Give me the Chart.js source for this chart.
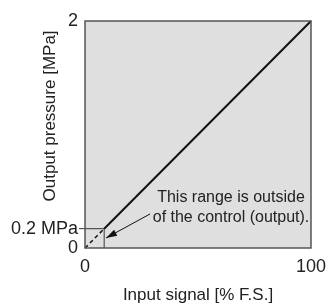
<!DOCTYPE html>
<html>
<head>
<meta charset="utf-8">
<script src="https://cdn.jsdelivr.net/npm/chart.js@4.4.1/dist/chart.umd.min.js"></script>
<style>
  html, body { margin: 0; padding: 0; background: #fff; }
  #wrap { width: 327px; height: 304px; }
</style>
</head>
<body>
<div id="wrap"><canvas id="chart"></canvas></div>
<script>
/* input signal vs output pressure — linear characteristic with the dead zone box */

// ── Data ─────────────────────────────────────────────────────────────────────
const X_TICKS = [0, 100];
const X_TICK_LABELS = ['0', '100'];
const Y_TICKS = [0, 0.17, 2];
const Y_TICK_LABELS = ['0', '0.2 MPa', '2'];

const LINE_X = [8.5, 100];       // controlled range
const LINE_Y = [0.17, 2];
const DASH_X = [0, 8.5];         // outside the control
const DASH_Y = [0, 0.17];
const BOX_X = [0, 8.5, 8.5];     // small range box
const BOX_Y = [0.17, 0.17, 0];
const ARROW_X = [28.8, 9.3];     // tail -> tip
const ARROW_Y = [0.30, 0.088];

const NOTE_LINES = ['This range is outside', 'of the control (output).'];
const NOTE_X = 64.6;
const NOTE_Y = [0.44, 0.265];

const X_TITLE = 'Input signal [% F.S.]';
const Y_TITLE = 'Output pressure [MPa]';

// ── Style ────────────────────────────────────────────────────────────────────
const FONT = '"Liberation Sans", Arial, sans-serif';
const TEXT = '#222';
const FRAME = '#555';
const AREA = '#dfdfdf';

const pts = (xs, ys) => xs.map((x, i) => ({ x, y: ys[i] }));

const plotArea = {
  id: 'plotArea',
  beforeDatasetsDraw(chart) {
    const { ctx, chartArea: a } = chart;
    ctx.save();
    ctx.fillStyle = AREA;
    ctx.fillRect(a.left, a.top, a.width, a.height);
    ctx.restore();
  },
  afterDatasetsDraw(chart) {
    const { ctx, chartArea: a } = chart;
    ctx.save();
    ctx.strokeStyle = FRAME;
    ctx.lineWidth = 1.5;
    ctx.strokeRect(a.left, a.top, a.width, a.height);
    ctx.restore();
  },
};

const arrowNote = {
  id: 'arrowNote',
  afterDatasetsDraw(chart) {
    const { ctx, scales: { x, y } } = chart;
    const pt = chart.getDatasetMeta(3).data;
    const tail = pt[0], tip = pt[1];
    const ang = Math.atan2(tip.y - tail.y, tip.x - tail.x);
    const len = 11, half = 3.3;
    ctx.save();
    ctx.fillStyle = '#111';
    ctx.beginPath();
    ctx.moveTo(tip.x, tip.y);
    ctx.lineTo(tip.x - len * Math.cos(ang) + half * Math.sin(ang), tip.y - len * Math.sin(ang) - half * Math.cos(ang));
    ctx.lineTo(tip.x - len * Math.cos(ang) - half * Math.sin(ang), tip.y - len * Math.sin(ang) + half * Math.cos(ang));
    ctx.closePath();
    ctx.fill();

    ctx.font = '16px ' + FONT;
    ctx.fillStyle = TEXT;
    ctx.textAlign = 'center';
    ctx.textBaseline = 'middle';
    NOTE_LINES.forEach((t, i) => ctx.fillText(t, x.getPixelForValue(NOTE_X), y.getPixelForValue(NOTE_Y[i])));
    ctx.restore();
  },
};

new Chart(document.getElementById('chart'), {
  type: 'line',
  data: {
    datasets: [
      { data: pts(LINE_X, LINE_Y), borderColor: '#111', borderWidth: 2 },
      { data: pts(DASH_X, DASH_Y), borderColor: '#111', borderWidth: 1.5, borderDash: [4, 3] },
      { data: pts(BOX_X, BOX_Y), borderColor: FRAME, borderWidth: 1.2 },
      { data: pts(ARROW_X, ARROW_Y), borderColor: '#111', borderWidth: 1 },
    ],
  },
  options: {
    responsive: true,
    maintainAspectRatio: false,
    animation: false,
    clip: false,
    elements: { point: { radius: 0 }, line: { tension: 0 } },
    layout: { padding: { top: 21, right: 16, left: 0, bottom: 0 } },
    plugins: { legend: { display: false }, tooltip: { enabled: false } },
    scales: {
      x: {
        type: 'linear', min: 0, max: 100,
        afterBuildTicks: s => { s.ticks = X_TICKS.map(v => ({ value: v })); },
        afterFit: s => { s.height = 56; },
        ticks: { callback: (v, i) => X_TICK_LABELS[i], font: { family: FONT, size: 18 }, color: TEXT, padding: 0, maxRotation: 0 },
        grid: { display: false },
        border: { display: false },
        title: { display: true, text: X_TITLE, font: { family: FONT, size: 17, lineHeight: 1 }, color: TEXT, padding: 0 },
      },
      y: {
        type: 'linear', min: 0, max: 2,
        afterBuildTicks: s => { s.ticks = Y_TICKS.map(v => ({ value: v })); },
        afterFit: s => { s.width = 85; },
        ticks: { callback: (v, i) => Y_TICK_LABELS[i], font: { family: FONT, size: 18 }, color: TEXT, padding: 1 },
        grid: {
          drawOnChartArea: false, tickLength: 6, lineWidth: 1.2,
          color: c => (c.tick && c.tick.value === Y_TICKS[1] ? FRAME : 'rgba(0,0,0,0)'),
        },
        border: { display: false },
        title: { display: true, text: Y_TITLE + '  ', align: 'end', font: { family: FONT, size: 17 }, color: TEXT, padding: { top: 40 } },
      },
    },
  },
  plugins: [plotArea, arrowNote],
});
</script>
</body>
</html>
